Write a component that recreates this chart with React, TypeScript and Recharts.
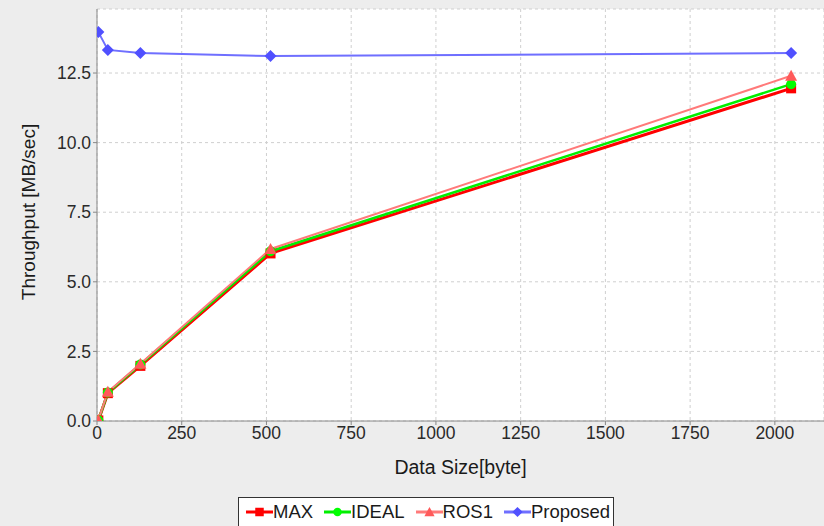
import React from 'react';
import { LineChart, Line, XAxis, YAxis, CartesianGrid, Legend } from 'recharts';

const dataSizes = [4, 32, 128, 512, 2048];
const maxSeries = [0.02, 1.0, 1.98, 6.02, 11.95];
const idealSeries = [0.03, 1.02, 2.03, 6.1, 12.1];
const ros1Series = [0.04, 1.05, 2.06, 6.18, 12.4];
const proposedSeries = [13.97, 13.33, 13.22, 13.11, 13.22];
const xTicks = [0, 250, 500, 750, 1000, 1250, 1500, 1750, 2000];
const yTicks = [0, 2.5, 5, 7.5, 10, 12.5];

const data = dataSizes.map((x, i) => ({
  x,
  MAX: maxSeries[i],
  IDEAL: idealSeries[i],
  ROS1: ros1Series[i],
  Proposed: proposedSeries[i],
}));

const FONT = '"Liberation Sans", Arial, sans-serif';

type Kind = 'square' | 'circle' | 'triangle' | 'diamond';

const Marker = ({ cx, cy, kind, color, s = 1 }: { cx: number; cy: number; kind: Kind; color: string; s?: number }) => {
  if (cx == null || cy == null || isNaN(cx) || isNaN(cy)) return null;
  if (kind === 'square') return <rect x={cx - 5 * s} y={cy - 5 * s} width={10 * s} height={10 * s} fill={color} />;
  if (kind === 'circle') return <circle cx={cx} cy={cy} r={5 * s} fill={color} />;
  if (kind === 'triangle')
    return <polygon points={`${cx},${cy - 6 * s} ${cx + 6 * s},${cy + 5 * s} ${cx - 6 * s},${cy + 5 * s}`} fill={color} />;
  return <polygon points={`${cx},${cy - 6 * s} ${cx + 6 * s},${cy} ${cx},${cy + 6 * s} ${cx - 6 * s},${cy}`} fill={color} />;
};

const seriesDefs: { key: string; color: string; marker: string; width: number; kind: Kind }[] = [
  { key: 'MAX', color: '#ff0000', marker: '#ff0000', width: 3, kind: 'square' },
  { key: 'IDEAL', color: '#00ee00', marker: '#00ff00', width: 2.5, kind: 'circle' },
  { key: 'ROS1', color: '#ff7a7a', marker: '#ff5a5a', width: 2, kind: 'triangle' },
  { key: 'Proposed', color: '#6f6fff', marker: '#5050ff', width: 2, kind: 'diamond' },
];

const LegendContent = () => (
  <div
    style={{
      display: 'flex',
      alignItems: 'center',
      border: '1px solid #333',
      background: '#fff',
      width: 376,
      height: 30,
      boxSizing: 'border-box',
      padding: '0 0 0 7px',
      fontFamily: FONT,
      fontSize: 18.5,
      color: '#1a1a1a',
      whiteSpace: 'nowrap',
    }}
  >
    {seriesDefs.map((s, i) => (
      <div key={s.key} style={{ display: 'flex', alignItems: 'center', marginRight: i === seriesDefs.length - 1 ? 0 : 11 }}>
        <svg width={27} height={16} style={{ display: 'block' }}>
          <line x1={0} y1={8} x2={27} y2={8} stroke={s.color} strokeWidth={3} />
          <Marker cx={13.5} cy={8} kind={s.kind} color={s.marker} s={0.85} />
        </svg>
        <span>{s.key}</span>
      </div>
    ))}
  </div>
);

const YLabel = ({ viewBox }: any) => {
  const cy = viewBox.y + viewBox.height / 2 - 3;
  const cx = 28;
  return (
    <text
      x={cx}
      y={cy}
      transform={`rotate(-90, ${cx}, ${cy})`}
      textAnchor="middle"
      dominantBaseline="central"
      fontFamily={FONT}
      fontSize={19}
      fill="#1a1a1a"
    >
      Throughput [MB/sec]
    </text>
  );
};

export default function App() {
  return (
    <div style={{ position: 'absolute', left: 0, top: 0, width: 824, height: 526, background: '#ededed', overflow: 'hidden' }}>
      <LineChart width={824} height={526} data={data} margin={{ top: 9, right: 0, left: 0, bottom: 45 }}>
        <CartesianGrid stroke="#cfcfcf" strokeDasharray="3 3" fill="#ffffff" />
        <XAxis
          dataKey="x"
          type="number"
          domain={[0, 2145]}
          ticks={xTicks}
          allowDataOverflow
          height={60}
          stroke="#888"
          tickSize={4}
          tick={{ fill: '#2a2a2a', fontSize: 17.5, fontFamily: FONT }}
          label={{ value: 'Data Size[byte]', position: 'insideBottom', offset: 7, fill: '#1a1a1a', fontSize: 19.5, fontFamily: FONT }}
        />
        <YAxis
          type="number"
          domain={[0, 14.8]}
          ticks={yTicks}
          allowDataOverflow
          width={97}
          stroke="#888"
          tickSize={4}
          tickFormatter={(v: number) => v.toFixed(1)}
          tick={{ fill: '#2a2a2a', fontSize: 17.5, fontFamily: FONT }}
          label={<YLabel />}
        />
        {seriesDefs.map((s) => (
          <Line
            key={s.key}
            dataKey={s.key}
            type="linear"
            stroke={s.color}
            strokeWidth={s.width}
            isAnimationActive={false}
            dot={(p: any) => <Marker key={`${s.key}-${p.index}`} cx={p.cx} cy={p.cy} kind={s.kind} color={s.marker} />}
            activeDot={false}
          />
        ))}
        <Legend
          layout="horizontal"
          verticalAlign="middle"
          align="center"
          content={<LegendContent />}
          wrapperStyle={{ left: 238, top: 497, width: 376, height: 30 }}
        />
      </LineChart>
    </div>
  );
}
